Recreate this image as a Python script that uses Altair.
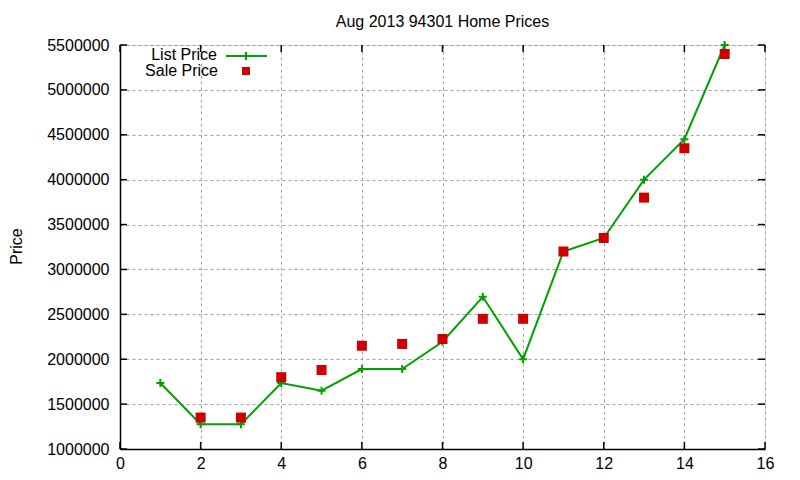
import altair as alt
import pandas as pd

# data
idx = list(range(1, 16))
list_price = [1735000, 1275000, 1275000, 1735000, 1650000, 1890000, 1890000,
              2195000, 2695000, 2000000, 3200000, 3350000, 4000000, 4450000, 5500000]
sale_idx = list(range(2, 16))
sale_price = [1350000, 1350000, 1800000, 1880000, 2150000, 2170000, 2225000,
              2450000, 2450000, 3200000, 3350000, 3800000, 4350000, 5400000]
x_ticks = [0, 2, 4, 6, 8, 10, 12, 14, 16]
y_ticks = [1000000, 1500000, 2000000, 2500000, 3000000, 3500000, 4000000, 4500000, 5000000, 5500000]

W, H = 645, 404
GREEN = "#00a000"
RED = "#cc0000"
FONT = "Liberation Sans"
FS = 16

df_list = pd.DataFrame({"x": idx, "y": list_price})
df_sale = pd.DataFrame({"x": sale_idx, "y": sale_price})
df_xt = pd.DataFrame({"x": x_ticks})
df_yt = pd.DataFrame({"y": y_ticks})

xs = alt.Scale(domain=[0, 16], nice=False, zero=False)
ys = alt.Scale(domain=[1000000, 5500000], nice=False, zero=False)

x_axis = alt.Axis(values=x_ticks, format="d", title=None, grid=True,
                  gridDash=[3, 3], gridColor="#a0a0a0", gridWidth=1,
                  ticks=False, domain=True, domainColor="black", domainWidth=1.5,
                  labelFlush=False, labelOverlap=False,
                  labelFont=FONT, labelFontSize=FS, labelColor="black", labelPadding=6)
y_axis = alt.Axis(values=y_ticks, format="d", title="Price", grid=True,
                  gridDash=[3, 3], gridColor="#a0a0a0", gridWidth=1,
                  ticks=False, domain=True, domainColor="black", domainWidth=1.5,
                  labelFlush=False, labelOverlap=False,
                  labelFont=FONT, labelFontSize=FS, labelColor="black", labelPadding=11,
                  titleFont=FONT, titleFontSize=FS, titleFontWeight="normal", titleColor="black",
                  titleAngle=270, titleX=-104, titleY=201, titleAlign="center", titleBaseline="middle")

line = alt.Chart(df_list).mark_line(color=GREEN, strokeWidth=2).encode(
    x=alt.X("x:Q", scale=xs, axis=x_axis),
    y=alt.Y("y:Q", scale=ys, axis=y_axis),
)
plus = alt.Chart(df_list).mark_point(
    shape="M-1,0L1,0M0,-1L0,1", filled=False, stroke=GREEN, strokeWidth=2, size=64, opacity=1
).encode(x=alt.X("x:Q", scale=xs), y=alt.Y("y:Q", scale=ys))
squares = alt.Chart(df_sale).mark_square(color=RED, size=100, opacity=1).encode(
    x=alt.X("x:Q", scale=xs), y=alt.Y("y:Q", scale=ys)
)

# inward ticks on all four sides
tick_len = 7
tl = alt.Chart(df_yt).mark_rule(color="black", strokeWidth=1.5).encode(
    y=alt.Y("y:Q", scale=ys), x=alt.value(0), x2=alt.value(tick_len))
tr = alt.Chart(df_yt).mark_rule(color="black", strokeWidth=1.5).encode(
    y=alt.Y("y:Q", scale=ys), x=alt.value(W - tick_len), x2=alt.value(W))
tb = alt.Chart(df_xt).mark_rule(color="black", strokeWidth=1.5).encode(
    x=alt.X("x:Q", scale=xs), y=alt.value(H - tick_len), y2=alt.value(H))
tt = alt.Chart(df_xt).mark_rule(color="black", strokeWidth=1.5).encode(
    x=alt.X("x:Q", scale=xs), y=alt.value(0), y2=alt.value(tick_len))

# legend
leg_text1 = alt.Chart(pd.DataFrame({"t": ["List Price"]})).mark_text(
    align="right", baseline="middle", font=FONT, fontSize=FS, color="black"
).encode(text="t:N", x=alt.value(97), y=alt.value(10))
leg_text2 = alt.Chart(pd.DataFrame({"t": ["Sale Price"]})).mark_text(
    align="right", baseline="middle", font=FONT, fontSize=FS, color="black"
).encode(text="t:N", x=alt.value(98), y=alt.value(26))
leg_line = alt.Chart(pd.DataFrame({"t": ["List Price"]})).mark_rule(color=GREEN, strokeWidth=2).encode(
    x=alt.value(106), x2=alt.value(147), y=alt.value(11))
leg_plus = alt.Chart(pd.DataFrame({"t": ["List Price"]})).mark_point(
    shape="M-1,0L1,0M0,-1L0,1", filled=False, stroke=GREEN, strokeWidth=2, size=64, opacity=1
).encode(x=alt.value(126), y=alt.value(11))
leg_sq = alt.Chart(pd.DataFrame({"t": ["Sale Price"]})).mark_square(color=RED, size=64, opacity=1).encode(
    x=alt.value(126), y=alt.value(26))

chart = alt.layer(
    line, plus, squares, tl, tr, tb, tt,
    leg_text1, leg_text2, leg_line, leg_plus, leg_sq
).properties(
    width=W, height=H,
    title=alt.TitleParams("Aug 2013 94301 Home Prices", font=FONT, fontSize=FS,
                          fontWeight="normal", color="black", anchor="middle", offset=7),
    autosize=alt.AutoSizeParams(type="none"),
    padding={"left": 112, "top": 37, "right": 27, "bottom": 31},
).configure_view(
    stroke="black", strokeWidth=1.5
).configure(background="white")

chart.save("out.html", embed_options={"renderer": "svg", "actions": False})
